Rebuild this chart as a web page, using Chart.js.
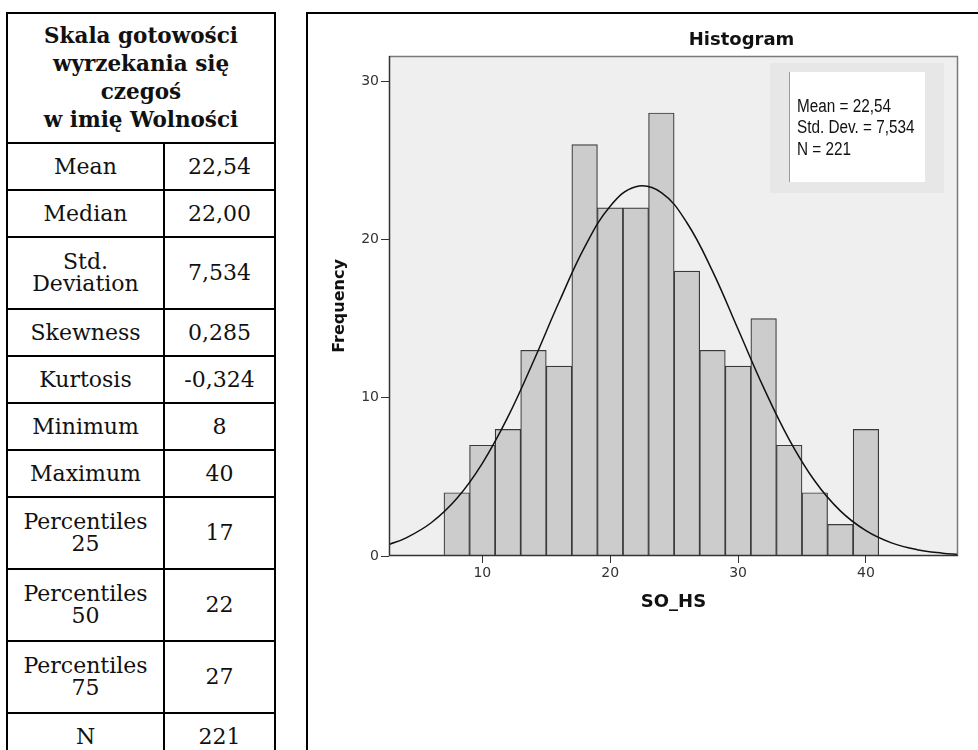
<!DOCTYPE html>
<html>
<head>
<meta charset="utf-8">
<script src="https://cdn.jsdelivr.net/npm/chart.js@4/dist/chart.umd.min.js"></script>
<style>
body { margin: 0; background: #fff; width: 978px; height: 750px; overflow: hidden; position: relative; }
#stats { position: absolute; left: 6px; top: 12px; border-collapse: collapse; font-family: "DejaVu Serif", serif; font-size: 22px; color: #111; }
#stats td, #stats th { border: 2px solid #000; text-align: center; padding: 0; line-height: 22px; }
#stats th { font-size: 21.5px; line-height: 28px; font-weight: bold; }
#box { position: absolute; left: 306px; top: 12px; width: 700px; height: 760px; border: 2px solid #000; }
#wrap { position: absolute; left: 0; top: 0; width: 660px; height: 600px; }
</style>
</head>
<body>
<table id="stats"></table>
<div id="box"><div id="wrap"><canvas id="histogram"></canvas></div></div>
<script>
// Histogram bins (width 2)
var binStarts = [7, 9, 11, 13, 15, 17, 19, 21, 23, 25, 27, 29, 31, 33, 35, 37, 39];
var binCounts = [4, 7, 8, 13, 12, 26, 22, 22, 28, 18, 13, 12, 15, 7, 4, 2, 8];
var binWidth = 2;

// Normal curve as it is drawn over the bars
var curveX = [2.7, 4, 6, 8, 10, 12, 14, 16, 18, 20, 22, 24, 26, 28, 30, 32, 34, 36, 38, 40, 42, 44, 46, 47.2];
var curveY = [0.73, 1.13, 2.10, 3.63, 5.86, 8.79, 12.31, 16.05, 19.52, 22.11, 23.34, 22.97, 21.06, 18.00, 14.33, 10.64, 7.36, 4.74, 2.85, 1.60, 0.83, 0.40, 0.18, 0.11];

var xTickValues = [10, 20, 30, 40];
var yTickValues = [0, 10, 20, 30];
var legendLines = ["Mean = 22,54", "Std. Dev. = 7,534", "N = 221"];

// Table on the left
var tableTitle = ["Skala gotowości", "wyrzekania się", "czegoś", "w imię Wolności"];
var statLabels = [["Mean"], ["Median"], ["Std.", "Deviation"], ["Skewness"], ["Kurtosis"], ["Minimum"], ["Maximum"],
    ["Percentiles", "25"], ["Percentiles", "50"], ["Percentiles", "75"], ["N"]];
var statValues = ["22,54", "22,00", "7,534", "0,285", "-0,324", "8", "40", "17", "22", "27", "221"];

// builds the table from the arrays above
function buildTable() {
    var html = '<tr style="height:130px"><th colspan="2" style="width:266px">' + tableTitle.join("<br>") + '</th></tr>';
    for (var i = 0; i < statLabels.length; i++) {
        var h = statLabels[i].length > 1 ? 72 : 47;
        html += '<tr style="height:' + h + 'px"><td style="width:155px">' + statLabels[i].join("<br>") + '</td><td style="width:109px">' + statValues[i] + '</td></tr>';
    }
    document.getElementById("stats").innerHTML = html;
}
buildTable();

// draws the grey plot background, the stats box and the title
var spssPlugin = {
    id: 'spss',
    beforeDraw: function (chart) {
        var a = chart.chartArea, ctx = chart.ctx;
        ctx.save();
        ctx.fillStyle = '#efefef';
        ctx.fillRect(a.left, a.top, a.right - a.left, a.bottom - a.top);

        ctx.fillStyle = '#e7e7e7';
        ctx.fillRect(a.right - 188, a.top + 7, 174, 130);
        ctx.fillStyle = '#ffffff';
        ctx.fillRect(a.right - 169, a.top + 16, 136, 110);
        ctx.strokeStyle = '#9a9a9a';
        ctx.lineWidth = 1;
        ctx.beginPath();
        ctx.moveTo(a.right - 168.5, a.top + 16);
        ctx.lineTo(a.right - 168.5, a.top + 126);
        ctx.stroke();

        ctx.fillStyle = '#111';
        ctx.textBaseline = 'middle';
        ctx.textAlign = 'left';
        ctx.font = '18px "Liberation Sans", Arial, sans-serif';
        for (var i = 0; i < legendLines.length; i++) {
            ctx.save();
            ctx.translate(a.right - 161, a.top + 51 + i * 21.5);
            ctx.scale(0.85, 1);
            ctx.fillText(legendLines[i], 0, 0);
            ctx.restore();
        }

        ctx.textAlign = 'center';
        ctx.font = 'bold 18px "DejaVu Sans", sans-serif';
        ctx.fillText("Histogram", (a.left + a.right) / 2 + 68, 26);
        ctx.restore();
    },
    afterDatasetsDraw: function (chart) {
        var a = chart.chartArea, ctx = chart.ctx;
        ctx.save();
        ctx.lineWidth = 1.5;
        ctx.strokeStyle = '#7a7a7a';
        ctx.beginPath();
        ctx.moveTo(a.left, a.top + 0.5);
        ctx.lineTo(a.right - 0.5, a.top + 0.5);
        ctx.lineTo(a.right - 0.5, a.bottom);
        ctx.stroke();
        ctx.strokeStyle = '#333';
        ctx.beginPath();
        ctx.moveTo(a.left + 0.5, a.top);
        ctx.lineTo(a.left + 0.5, a.bottom - 0.5);
        ctx.lineTo(a.right, a.bottom - 0.5);
        ctx.stroke();
        ctx.restore();
    }
};

function createChart() {
    var ctx = document.getElementById("histogram").getContext('2d');
    new Chart(ctx, {
        type: 'bar',
        data: {
            datasets: [{
                type: 'line',
                data: curveX.map(function (x, i) { return {x: x, y: curveY[i]}; }),
                borderColor: '#111',
                borderWidth: 1.5,
                pointRadius: 0,
                tension: 0.4,
                fill: false
            }, {
                type: 'bar',
                data: binStarts.map(function (b, i) { return {x: b + binWidth / 2, y: binCounts[i]}; }),
                backgroundColor: '#cccccc',
                borderColor: '#3a3a3a',
                borderWidth: 1.2,
                barPercentage: 1,
                categoryPercentage: 1
            }]
        },
        options: {
            responsive: true,
            maintainAspectRatio: false,
            animation: false,
            events: [],
            layout: {padding: {top: 42, right: 10, left: 0, bottom: 0}},
            plugins: {legend: {display: false}, tooltip: {enabled: false}},
            scales: {
                x: {
                    type: 'linear',
                    min: 2.7,
                    max: 47.2,
                    offset: false,
                    grid: {offset: false, drawOnChartArea: false, drawTicks: true, tickLength: 7, color: '#333'},
                    border: {display: false},
                    afterBuildTicks: function (axis) { axis.ticks = xTickValues.map(function (v) { return {value: v}; }); },
                    afterFit: function (axis) { axis.height = 58; },
                    ticks: {color: '#333', padding: 2, maxRotation: 0, font: {family: '"DejaVu Sans", sans-serif', size: 14}},
                    title: {display: true, text: 'SO_HS', color: '#111', padding: {top: 0, bottom: 1},
                        font: {family: '"DejaVu Sans", sans-serif', size: 18, weight: 'bold'}}
                },
                y: {
                    min: 0,
                    max: 31.6,
                    grid: {drawOnChartArea: false, drawTicks: true, tickLength: 8, color: '#333'},
                    border: {display: false},
                    afterBuildTicks: function (axis) { axis.ticks = yTickValues.map(function (v) { return {value: v}; }); },
                    afterFit: function (axis) { axis.width = 81; },
                    ticks: {color: '#333', padding: 2, font: {family: '"DejaVu Sans", sans-serif', size: 14}},
                    title: {display: true, text: 'Frequency', color: '#111', padding: {top: 22, bottom: 0},
                        font: {family: '"DejaVu Sans", sans-serif', size: 16, weight: 'bold'}}
                }
            }
        },
        plugins: [spssPlugin]
    });
}

createChart();
</script>
</body>
</html>
